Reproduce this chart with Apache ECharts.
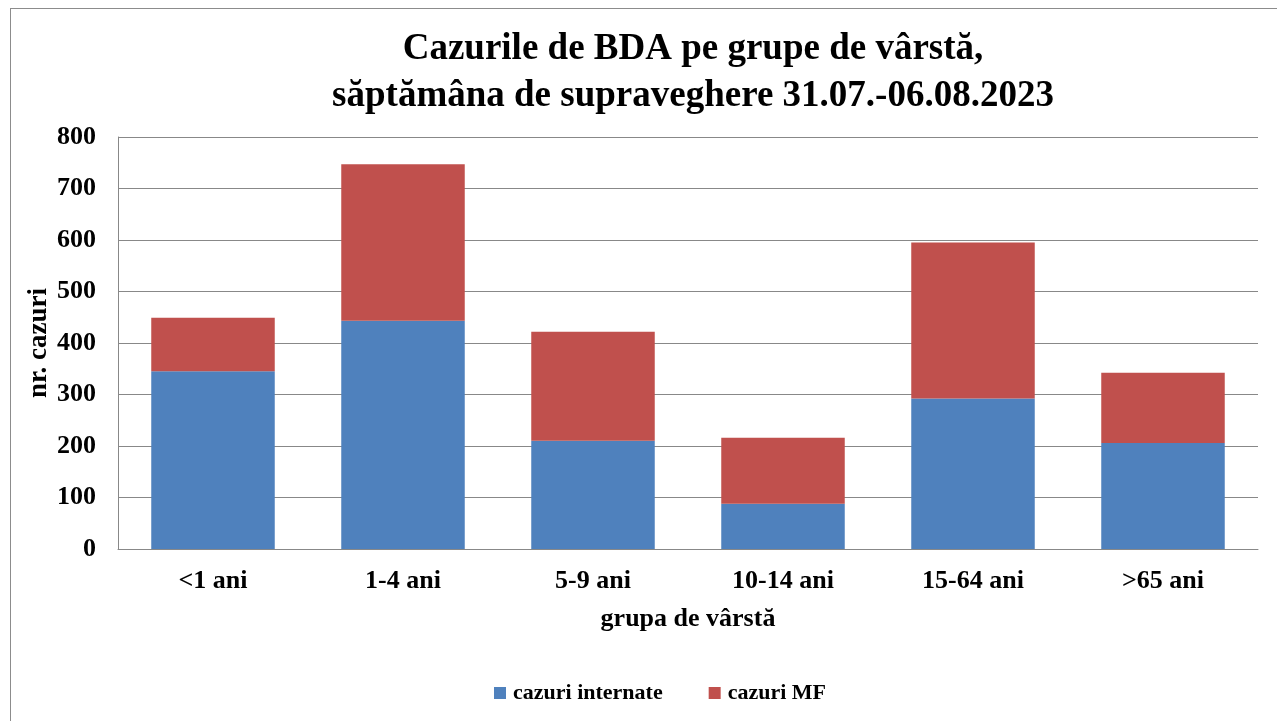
<!DOCTYPE html>
<html><head><meta charset="utf-8">
<script src="https://cdn.jsdelivr.net/npm/echarts@6/dist/echarts.min.js"></script>
<style>
html,body{margin:0;padding:0;background:#fff;overflow:hidden;}
#frame{position:absolute;left:10px;top:8px;width:1300px;height:740px;border:1px solid #8c8c8c;}
#c{position:absolute;left:0;top:0;width:1277px;height:721px;}
</style></head>
<body>
<div id="frame"></div>
<div id="c"></div>
<script>
const categories = ['<1 ani', '1-4 ani', '5-9 ani', '10-14 ani', '15-64 ani', '>65 ani'];
const cazuriInternate = [345, 443, 210, 88, 292, 206];
const cazuriMF = [104, 304, 212, 128, 303, 136];
const yTicks = [0, 100, 200, 300, 400, 500, 600, 700, 800];

const font = "'Liberation Serif', 'Times New Roman', serif";
const chart = echarts.init(document.getElementById('c'));
chart.setOption({
  animation: false,
  title: {
    text: 'Cazurile de BDA pe grupe de vârstă,\nsăptămâna de supraveghere 31.07.-06.08.2023',
    left: 688, textAlign: 'center', top: 21,
    textStyle: {fontFamily: font, fontSize: 37, fontWeight: 'bold', color: '#000', lineHeight: 47}
  },
  legend: {
    top: 677, left: 489,
    itemWidth: 12, itemHeight: 12, itemGap: 46,
    icon: 'rect',
    textStyle: {fontFamily: font, fontSize: 22, fontWeight: 'bold', color: '#000', padding: [0, 0, 0, 2]},
    data: ['cazuri internate', 'cazuri MF']
  },
  grid: {left: 118, right: 19, top: 137, bottom: 172},
  xAxis: {
    type: 'category', data: categories,
    name: 'grupa de vârstă', nameLocation: 'middle', nameGap: 57,
    nameTextStyle: {fontFamily: font, fontSize: 26, fontWeight: 'bold', color: '#000'},
    axisLine: {lineStyle: {color: '#888', width: 1}},
    axisTick: {show: false},
    axisLabel: {fontFamily: font, fontSize: 26, fontWeight: 'bold', color: '#000', margin: 19}
  },
  yAxis: {
    type: 'value', min: yTicks[0], max: yTicks[yTicks.length - 1], interval: 100,
    name: 'nr. cazuri', nameLocation: 'middle', nameGap: 65, nameRotate: 90,
    nameMoveOverlap: false,
    nameTextStyle: {fontFamily: font, fontSize: 27, fontWeight: 'bold', color: '#000'},
    axisLine: {show: true, lineStyle: {color: '#888', width: 1}},
    axisTick: {show: false},
    splitLine: {lineStyle: {color: '#888', width: 1}},
    axisLabel: {fontFamily: font, fontSize: 26, fontWeight: 'bold', color: '#000', margin: 22}
  },
  series: [
    {name: 'cazuri internate', type: 'bar', stack: 'total', data: cazuriInternate,
     barWidth: '65%', itemStyle: {color: '#4F81BD'}},
    {name: 'cazuri MF', type: 'bar', stack: 'total', data: cazuriMF,
     barWidth: '65%', itemStyle: {color: '#C0504D'}}
  ]
});
</script>
</body></html>
